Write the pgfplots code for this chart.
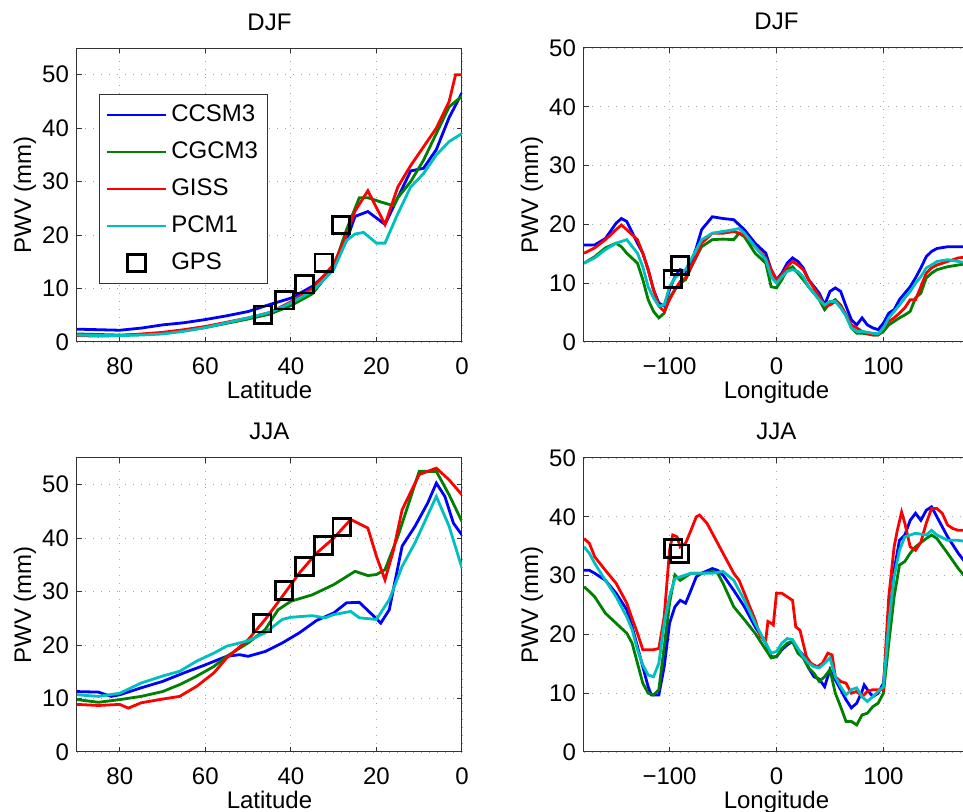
\documentclass[border=0pt]{standalone}
\usepackage{fontspec}
\setmainfont{Liberation Sans}
\usepackage{pgfplots}
\pgfplotsset{compat=1.18}
\usepgfplotslibrary{groupplots}

\definecolor{mblue}{RGB}{0,0,255}
\definecolor{mgreen}{RGB}{0,128,0}
\definecolor{mred}{RGB}{255,0,0}
\definecolor{mcyan}{RGB}{0,191,191}

\pgfplotsset{
  pwv/.style={
    scale only axis, width=192.5pt, height=147pt,
    font=\fontsize{12}{14}\selectfont,
    /pgf/number format/assume math mode=true,
    tick align=inside, major tick length=2.5pt,
    grid=major, grid style={gray!70, line width=0.4pt, dash pattern=on 0.5pt off 3.5pt},
    axis line style={line width=0.5pt, black!80},
    every tick/.style={black!80, line width=0.5pt},
    ylabel={PWV (mm)},
    ylabel style={at={([xshift=-26pt]axis description cs:0,0.5)}, anchor=center},
    xlabel style={at={([yshift=-28.5pt]axis description cs:0.5,0)}, anchor=base, inner sep=0.5pt},
    every axis title shift=0pt,
    title style={at={([yshift=9pt]axis description cs:0.5,1)}, anchor=base},
    xticklabel style={inner ysep=0.5pt, yshift=-7pt},
    yticklabel style={xshift=-0.5pt},
    legend image code/.code={\draw[#1] (0pt,0pt) -- (29.5pt,0pt);},
  },
  lat/.style={xmin=0, xmax=90, x dir=reverse, xtick={0,20,40,60,80},
    ymin=0, ymax=55, ytick={0,10,20,30,40,50}, xlabel={Latitude}},
  lon/.style={xmin=-180, xmax=180, xtick={-100,0,100}, xticklabels={−100,0,100},
    ymin=0, ymax=50, ytick={0,10,20,30,40,50}, xlabel={Longitude}},
  ccsm/.style={mblue, line width=1.4pt},
  cgcm/.style={mgreen, line width=1.4pt},
  giss/.style={mred, line width=1.4pt},
  pcm/.style={mcyan, line width=1.4pt},
  gps/.style={only marks, mark=square, mark size=4.4pt, black, line width=1.4pt,
    legend image code/.code={\draw[mark repeat=2,mark phase=2,##1] plot coordinates {(0pt,0pt)(14.75pt,0pt)(29.5pt,0pt)};}},
}

\begin{document}
\begin{tikzpicture}
\begin{groupplot}[group style={group size=2 by 2, horizontal sep=61pt, vertical sep=58pt}, pwv]

% DJF, latitude
\nextgroupplot[lat, title={DJF},
  legend style={at={(0,1)}, anchor=north west, xshift=11pt, yshift=-23pt,
    draw=black!80, line width=0.5pt, inner xsep=3pt, inner ysep=1pt,
    cells={anchor=west}, row sep=0pt,
    nodes={inner xsep=2pt, inner ysep=3.5pt, text height=9pt, text depth=2.5pt}}]
\addplot[ccsm] coordinates {(90,2.4)(85,2.3)(80,2.2)(75,2.6)(70,3.2)(65,3.6)(60,4.2)(55,4.9)(50,5.7)(45,7)(40,8.2)(35,10.4)(30,14)(27,19)(25,23.5)(22,24.4)(18,22)(15,27)(12,32)(9,32.5)(6,36)(3,42)(0,46.6)};
\addplot[cgcm] coordinates {(90,1.5)(85,1.4)(80,1.3)(75,1.4)(70,1.6)(65,2.1)(60,2.7)(55,3.5)(50,4.3)(45,5.2)(40,6.8)(35,9)(30,14)(27,21)(24,27)(22,27)(19,26.2)(16,25.5)(15,27)(12,30)(9,34)(6,39)(3,44)(0,46)};
\addplot[giss] coordinates {(90,1.2)(85,1.1)(80,1.2)(75,1.5)(70,1.8)(65,2.3)(60,2.9)(55,3.7)(50,4.5)(45,5.5)(40,7.5)(35,10)(30,14.5)(27,20)(25,24.5)(22,28.3)(18,22)(15,29)(12,33)(9,36.5)(6,40)(3,45)(1.5,50)(0,50)};
\addplot[pcm] coordinates {(90,1.3)(85,1.2)(80,1.2)(75,1.3)(70,1.5)(65,2)(60,2.7)(55,3.6)(50,4.5)(45,5.5)(40,7.3)(35,9.5)(30,13.5)(27,19)(25,20.2)(23,20.5)(20,18.5)(18,18.5)(15,24)(12,29)(9,31.5)(6,35)(3,37.5)(0,39)};
\addplot[gps] coordinates {(46.5,5.1)(41.5,7.8)(36.8,10.8)(32.3,14.8)(28.3,21.9)};
\legend{CCSM3, CGCM3, GISS, PCM1, GPS}

% DJF, longitude
\nextgroupplot[lon, title={DJF}]
\addplot[ccsm] coordinates {(-180,16.5)(-170,16.5)(-160,17.6)(-150,20.2)(-145,21)(-140,20.5)(-130,16.8)(-125,15.1)(-120,12.3)(-115,8.9)(-110,6.6)(-105,6.1)(-100,8.9)(-95,11.1)(-90,12.3)(-85,12)(-80,13.4)(-75,16)(-70,19.1)(-60,21.3)(-50,21)(-40,20.8)(-30,19.1)(-20,16.8)(-10,15.1)(-5,12.3)(0,10.6)(5,11.7)(10,13.4)(15,14.3)(20,13.7)(25,12.6)(30,10.6)(40,8.3)(45,6.3)(50,8.6)(55,9.2)(60,8.6)(65,6.1)(70,3.8)(75,2.9)(80,4.1)(85,2.9)(90,2.4)(95,2.1)(100,3.2)(105,4.9)(110,5.5)(115,7.2)(120,8.3)(125,9.4)(130,10.9)(135,12.6)(140,14.5)(145,15.4)(150,15.9)(160,16.2)(170,16.2)(180,16.2)};
\addplot[cgcm] coordinates {(-180,13.4)(-170,14.5)(-160,16)(-150,16.8)(-145,16.2)(-140,15.1)(-130,13.4)(-125,10.6)(-120,7.2)(-115,5.2)(-110,4.1)(-105,4.9)(-100,7.5)(-95,8.9)(-90,10)(-85,10.6)(-80,12.6)(-75,14.5)(-70,16.2)(-60,17.4)(-50,17.5)(-40,17.4)(-35,18.5)(-30,17.9)(-20,15.1)(-10,13.4)(-5,9.4)(0,9.2)(5,10.6)(10,12.3)(15,12.8)(20,11.7)(25,10.6)(30,9.4)(40,7.2)(45,5.5)(50,6.6)(55,7.2)(60,6.3)(65,4.6)(70,2.4)(75,1.5)(80,1.5)(90,1.2)(95,1.2)(100,1.8)(105,2.9)(110,3.5)(115,4.1)(120,4.6)(125,5.2)(130,7.5)(135,8.3)(140,10.9)(145,11.7)(150,12.3)(160,12.8)(170,13.1)(180,13.4)};
\addplot[giss] coordinates {(-180,15.1)(-170,16)(-160,17.4)(-150,19.1)(-145,19.9)(-140,19.1)(-130,17.4)(-125,15.1)(-120,12.3)(-115,8.9)(-110,6.1)(-105,5.2)(-100,7.2)(-95,8.9)(-90,10.3)(-85,10.9)(-80,12.8)(-75,14.5)(-70,16.8)(-60,18.5)(-50,18.5)(-40,18.8)(-30,18.2)(-20,16.2)(-10,14.3)(-5,12.3)(0,10.6)(5,11.4)(10,12.8)(15,13.7)(20,13.1)(25,12.3)(30,10.6)(40,7.7)(45,6.1)(50,6.3)(55,6.9)(60,6.1)(65,4.6)(70,2.9)(75,2.4)(80,1.8)(90,1.2)(95,1.2)(100,2.4)(105,3.5)(110,4.1)(115,4.9)(120,5.8)(125,7.2)(130,7.2)(135,9.4)(140,11.7)(145,12.6)(150,13.1)(160,13.7)(170,14.3)(180,14.5)};
\addplot[pcm] coordinates {(-180,13.4)(-170,14.3)(-160,15.7)(-150,16.8)(-145,17.1)(-140,17.4)(-130,15.1)(-125,12.8)(-120,9.4)(-115,7.5)(-110,6.1)(-105,6.3)(-100,9.4)(-95,10.9)(-90,11.7)(-85,12.3)(-80,14)(-75,15.7)(-70,17.4)(-60,18.5)(-50,18.8)(-40,19.1)(-35,19.3)(-30,18.5)(-20,16.2)(-10,14)(-5,11.1)(0,10)(5,11.1)(10,12)(15,12.3)(20,12)(25,11.1)(30,9.4)(40,7.2)(45,6.3)(50,6.9)(55,6.9)(60,5.8)(65,4.4)(70,2.4)(75,1.8)(80,1.8)(90,1.5)(95,1.4)(100,2.4)(105,4.1)(110,5.2)(115,6.3)(120,7.5)(125,8.6)(130,10)(135,11.1)(140,12.6)(145,13.1)(150,13.7)(160,14)(170,13.7)(180,13.4)};
\addplot[gps] coordinates {(-96.9,10.7)(-90.3,13.0)};

% JJA, latitude
\nextgroupplot[lat, title={JJA}]
\addplot[ccsm] coordinates {(90,11.3)(85,11.2)(82,10.4)(80,10.7)(75,12)(70,13.2)(65,14.8)(60,16.3)(55,17.9)(52,18.2)(50,17.9)(46,18.8)(42,20.4)(38,22.3)(34,24.6)(30,26)(27,27.9)(24,28)(21,25.7)(19,24.1)(17,26.6)(14,38.5)(11,42.2)(8,46.6)(6,50.3)(4,47.8)(2,42.8)(0,40.6)};
\addplot[cgcm] coordinates {(90,9.8)(85,9.3)(80,9.8)(75,10.4)(70,11.3)(66,12.6)(62,14.2)(58,16)(55,17.9)(50,20.4)(46,22.9)(43,26.6)(40,28.2)(35,29.4)(30,31.3)(25,33.8)(22,33)(20,33.2)(18,34.1)(15,40.3)(10,52.5)(6,52.5)(3,48.1)(0,43.1)};
\addplot[giss] coordinates {(90,8.9)(85,8.7)(80,8.9)(78,8.2)(75,9.2)(70,9.9)(66,10.4)(62,12.3)(58,14.8)(55,17.6)(50,21)(46,24.8)(42,29.1)(38,33.5)(34,37.2)(30,40)(26,43.5)(22,41.9)(20,36.6)(18,32.2)(16,37.8)(14,45.3)(10,51.9)(6,53.1)(3,50.9)(0,48.1)};
\addplot[pcm] coordinates {(90,10.7)(85,10.4)(80,11)(75,12.9)(70,14.2)(66,15.1)(62,17)(58,18.5)(55,19.8)(50,20.8)(46,22.3)(42,24.8)(40,25.2)(35,25.5)(32,25.1)(30,25.7)(26,26.3)(24,25.1)(20,24.8)(17,28.5)(14,34.7)(11,39.1)(6,47.8)(3,42.2)(0,34.4)};
\addplot[gps] coordinates {(46.7,24.1)(41.6,30.2)(36.8,34.7)(32.4,38.6)(28.1,42.1)};

% JJA, longitude
\nextgroupplot[lon, title={JJA}]
\addplot[ccsm] coordinates {(-180,30.9)(-175,30.9)(-170,30.4)(-160,29.2)(-150,27)(-140,24.2)(-135,21.3)(-130,17.9)(-125,14.5)(-120,11.1)(-117,9.7)(-110,9.7)(-105,14.5)(-100,21.9)(-95,24.7)(-90,25.8)(-85,25.3)(-80,27.5)(-75,29.8)(-70,30.4)(-60,31.2)(-55,30.9)(-50,30.1)(-40,27.5)(-30,24.7)(-20,21.3)(-10,18.5)(-5,16.2)(0,16.2)(5,17.4)(10,18.2)(15,18.8)(20,17.4)(25,16.5)(30,14.3)(35,12.8)(40,12.4)(45,11.1)(50,14)(55,12.3)(60,10.6)(65,8.9)(70,7.5)(75,8.3)(80,10.3)(82,11.4)(85,10.6)(90,9.4)(95,10)(100,11.7)(105,21.3)(110,30.9)(115,36)(120,36.9)(125,39.4)(130,40.6)(135,39.4)(140,41.1)(145,41.7)(150,40)(160,36.6)(170,33.8)(175,32.6)(180,31.8)};
\addplot[cgcm] coordinates {(-180,28.1)(-175,27.3)(-170,26.4)(-160,23.6)(-150,21.9)(-140,20.2)(-135,18.5)(-130,15.1)(-125,11.7)(-120,10)(-115,9.7)(-110,10.6)(-105,17.9)(-100,25.3)(-95,30.1)(-90,29.2)(-85,29.8)(-80,30.4)(-70,30.4)(-60,30.7)(-55,30.4)(-50,28.7)(-40,24.7)(-30,22.5)(-20,20.2)(-10,17.4)(-5,16)(0,16.2)(5,17.6)(10,18.5)(15,18.8)(20,16.8)(25,16)(30,14.3)(35,13.4)(40,12)(45,12.8)(50,14)(55,10)(60,7.7)(65,5.2)(70,5.2)(75,4.6)(80,6.3)(85,6.6)(90,7.7)(95,8.3)(100,10)(105,18.5)(110,26.4)(115,31.8)(120,32.4)(125,33.8)(130,34.9)(140,36.3)(145,36.9)(150,36.3)(160,33.8)(170,31.2)(175,30.1)(180,29.5)};
\addplot[giss] coordinates {(-180,36.3)(-175,35.5)(-170,33.2)(-160,30.9)(-150,28.7)(-140,25.3)(-135,22.7)(-130,20.2)(-125,17.4)(-115,17.4)(-110,17.6)(-105,23)(-100,34.3)(-97,36.9)(-93,36.6)(-90,34.9)(-85,35.5)(-80,37.7)(-75,40)(-72,40.3)(-65,38.9)(-60,37.2)(-50,33.8)(-45,32.1)(-40,30.4)(-35,29.2)(-30,27)(-25,24.7)(-20,22.5)(-15,19.6)(-10,19.1)(-8,22.2)(-5,21.9)(-3,21.6)(0,27)(5,27)(10,26.4)(15,25.8)(18,21.3)(22,20.7)(28,16.2)(32,15.1)(38,14.5)(43,15.1)(48,16.8)(52,16.5)(55,12.8)(60,12)(65,11.7)(70,10)(75,10.3)(80,9.4)(85,10.3)(90,10.6)(95,10.6)(100,10.6)(102,17.4)(105,26.4)(110,34.9)(113,37.7)(117,40.8)(120,38.9)(125,34.9)(130,34.3)(135,35.7)(140,38.9)(145,41.4)(150,41.4)(155,40.6)(160,38.6)(165,38)(170,37.7)(180,37.7)};
\addplot[pcm] coordinates {(-180,34.9)(-175,33.8)(-170,32.1)(-160,29.2)(-150,26.4)(-140,23)(-135,20.8)(-130,17.4)(-125,14.8)(-120,13.1)(-115,12.8)(-110,15.1)(-105,21.9)(-100,26.4)(-95,29.5)(-90,29.8)(-85,30.1)(-80,30.4)(-70,30.4)(-60,30.4)(-50,30.7)(-40,29.2)(-30,25.8)(-20,21.9)(-10,18.5)(-5,16.8)(0,17.1)(5,18.5)(10,19.3)(15,19.1)(20,17.6)(25,16.2)(30,15.1)(35,14.5)(40,14.3)(45,15.1)(50,16)(55,12.8)(60,11.1)(65,9.7)(70,10.6)(75,10.9)(80,9.4)(85,8.6)(90,9.4)(95,10.3)(100,11.1)(105,21.9)(110,29.8)(115,34.3)(120,36.6)(130,37.2)(140,36.9)(145,37.7)(150,36.9)(160,36)(170,36)(180,35.7)};
\addplot[gps] coordinates {(-96.6,34.6)(-90.7,33.7)};

\end{groupplot}
\pgfresetboundingbox
\path[use as bounding box] ([xshift=-38.5pt,yshift=24pt]group c1r1.north west) rectangle ([xshift=443pt,yshift=-30pt]group c1r2.south west);
\end{tikzpicture}
\end{document}
